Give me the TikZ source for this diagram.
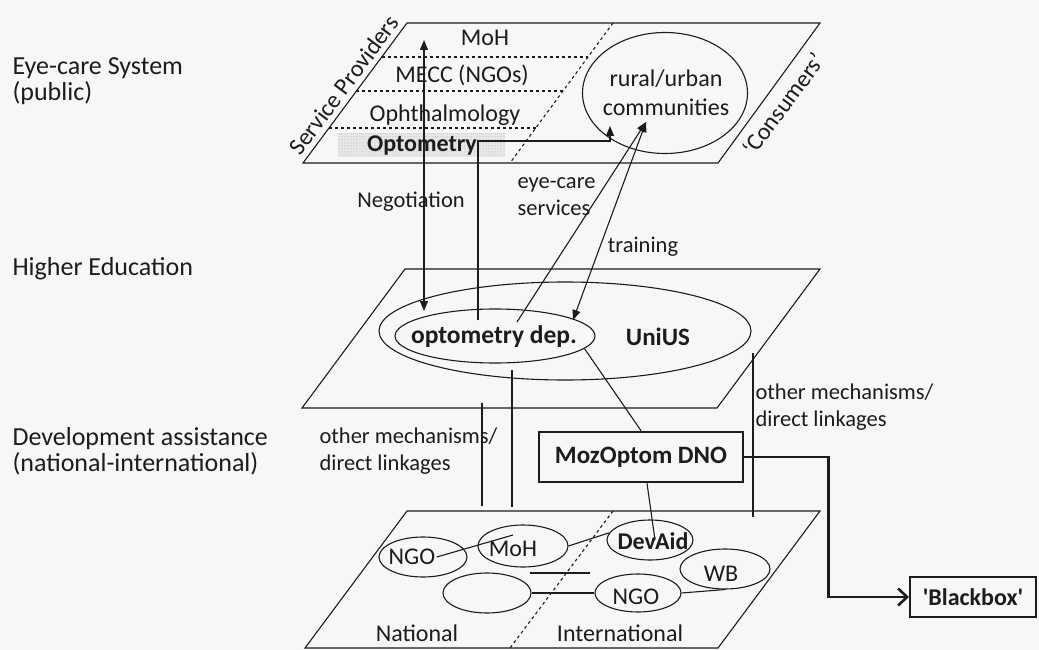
\documentclass[tikz,border=0pt]{standalone}
\usepackage{fontspec}
\setmainfont{Carlito}
\usetikzlibrary{arrows.meta,positioning,calc,shapes.geometric,patterns}

\definecolor{paper}{RGB}{246,247,249}
\definecolor{ink}{RGB}{28,28,28}

\begin{document}
\begin{tikzpicture}[x=1pt,y=-1pt,line width=1.1pt,color=ink,
  lvl/.style={font=\fontsize{26}{26}\selectfont,align=left,anchor=west,inner sep=0pt},
  lab/.style={font=\fontsize{24}{28}\selectfont,inner sep=1pt,align=center},
  bld/.style={lab,font=\fontsize{24}{28}\selectfont\bfseries},
  note/.style={font=\fontsize{22.5}{27}\selectfont,align=left,inner sep=0pt},
  org/.style={draw,ellipse,inner sep=0pt},
  dnobox/.style={draw,line width=2.6pt,inner sep=0pt,font=\fontsize{25}{28}\selectfont\bfseries},
  arr/.style={-{Triangle[length=10pt,width=8pt]}},
  arrs/.style={{Triangle[length=10pt,width=8pt]}-{Triangle[length=10pt,width=8pt]}}]
 \fill[paper] (0,0) rectangle (1039,650);
 \useasboundingbox (0,0) rectangle (1039,650);

 % level names
 \node[lvl] (lvEye)  at (12,81)  {Eye-care System\\(public)};
 \node[lvl] (lvHigh) at (12,269) {Higher Education};
 \node[lvl] (lvDev)  at (12,451) {Development assistance\\(national-international)};

 % eye-care system plane
 \coordinate (eTL) at (407,23);  \coordinate (eTR) at (820,23);
 \coordinate (eBR) at (718,163); \coordinate (eBL) at (303,163);
 \coordinate (eDT) at (613,23);  \coordinate (eDB) at (510,163);
 \fill[gray!18] (338,133) rectangle (505,157);
 \fill[pattern=dots,pattern color=gray!75] (338,133) rectangle (505,157);
 \draw (eTL) -- (eTR) -- (eBR) -- (eBL) -- cycle;
 \draw[dashed] (eDT) -- (eDB);
 \foreach \t in {0.243,0.486,0.75}
   \draw[dashed] ($(eTL)!\t!(eBL)$) -- ($(eDT)!\t!(eDB)$);
 \node[lab] (moh)  at (485,38)  {MoH};
 \node[lab] (mecc) at (462,75)  {MECC (NGOs)};
 \node[lab] (oph)  at (445,115) {Ophthalmology};
 \node[bld] (opt)  at (422,146) {Optometry};
 \node[org,minimum width=165pt,minimum height=121pt] (comm) at (665,93) {};
 \node[lab] (commT) at (666,93) {rural/urban\\[1pt]communities};
 \node[lab,rotate=53.4,anchor=south] (prov) at ($(eTL)!0.5!(eBL)+(-3,-2)$) {Service Providers};
 \node[lab,rotate=53.4,anchor=north] (cons) at ($(eTR)!0.5!(eBR)+(6,5)$) {`Consumers'};

 % higher education plane
 \coordinate (hTL) at (405,269); \coordinate (hTR) at (820,269);
 \coordinate (hBR) at (717,408); \coordinate (hBL) at (302,408);
 \draw (hTL) -- (hTR) -- (hBR) -- (hBL) -- cycle;
 \node[org,minimum width=372pt,minimum height=98pt] (uni) at (565,331) {};
 \node[org,minimum width=200pt,minimum height=54pt] (dep) at (495,336) {};
 \node[bld,font=\fontsize{25.5}{28}\selectfont\bfseries] (depT) at (494,337) {optometry dep.};
 \node[bld,font=\fontsize{25}{28}\selectfont\bfseries] (unius) at (658,337) {UniUS};

 % development assistance plane
 \coordinate (dTL) at (407,511); \coordinate (dTR) at (820,511);
 \coordinate (dBR) at (718,648); \coordinate (dBL) at (305,648);
 \coordinate (dDT) at (613,511); \coordinate (dDB) at (510,648);
 \draw (dTL) -- (dTR) -- (dBR) -- (dBL) -- cycle;
 \draw[dashed] (dDT) -- (dDB);
 \node[org,minimum width=88pt,minimum height=40pt] (ngoN) at (423,557) {};
 \node[org,minimum width=90pt,minimum height=42pt] (mohD) at (523,546) {};
 \node[org,minimum width=86pt,minimum height=40pt] (devaid) at (650,540) {};
 \node[org,minimum width=90pt,minimum height=40pt] (wb) at (725,569) {};
 \node[org,minimum width=86pt,minimum height=38pt] (ngoI) at (638,593) {};
 \node[org,minimum width=88pt,minimum height=40pt] (emp) at (487,593) {};
 \node[lab] (ngoNT)   at (412,557) {NGO};
 \node[lab] (mohDT)   at (513,549) {MoH};
 \node[bld] (devaidT) at (653,541) {DevAid};
 \node[lab] (wbT)     at (721,574) {WB};
 \node[lab] (ngoIT)   at (636,597) {NGO};
 \node[lab] (natT)    at (417,633) {National};
 \node[lab] (intT)    at (620,633) {International};

 % links between levels
 \coordinate (negTop) at (424,40);  \coordinate (negBot) at (424,311);
 \coordinate (depUp)  at (478,320); \coordinate (commIn) at (610,126);
 \coordinate (commSrv) at (646,122);
 \coordinate (depSrv) at (517,322); \coordinate (depTrn) at (573,320);
 \draw[arrs] (negTop) -- (negBot);
 \draw[arr] (depUp) |- ($(commIn)+(0,15)$) -- (commIn);
 \draw[arr] (depSrv) -- (commSrv);
 \draw[arrs] (commSrv) -- (depTrn);
 \node[note] (negL) at (411,202) {Negotiation};
 \node[note,anchor=west] (srvL) at (517,197) {eye-care\\services};
 \node[note] (trnL) at (643,247) {training};

 \coordinate (vA1) at (482,403); \coordinate (vA2) at (482,506);
 \coordinate (vB1) at (512,370); \coordinate (vB2) at (512,507);
 \coordinate (vC1) at (753,353); \coordinate (vC2) at (753,517);
 \draw (vA1) -- (vA2);
 \draw (vB1) -- (vB2);
 \draw (vC1) -- (vC2);
 \node[note,anchor=west] (othL) at (319,451) {other mechanisms/\\direct linkages};
 \node[note,anchor=west] (othR) at (755,407) {other mechanisms/\\direct linkages};

 \node[dnobox,minimum width=204pt,minimum height=50pt] (dno) at (641,457) {MozOptom DNO};
 \node[dnobox,line width=2pt,font=\fontsize{24}{28}\selectfont\bfseries,minimum width=126pt,minimum height=40pt] (bb) at (973,597) {\textquotesingle Blackbox\textquotesingle};
 \draw (dno.north) -- (dep.-8);
 \draw ([xshift=6pt]dno.south) -- ([xshift=5pt]devaid.center);
 \draw[line width=2.6pt,-{Straight Barb[length=9pt,width=17pt]}] (dno.east) -- ++(84,0) |- (bb.west);

 % ties inside the development plane
 \coordinate (mohIn) at (513,535);
 \coordinate (hzA) at (530,573); \coordinate (hzB) at (590,573);
 \draw (ngoNT.east) -- (mohIn);
 \draw (mohD.east) -- (devaid.170);
 \draw (hzA) -- (hzB);
 \draw (emp.east) -- (ngoI.west);
 \draw (ngoI.east) -- (wb.south);
\end{tikzpicture}
\end{document}
